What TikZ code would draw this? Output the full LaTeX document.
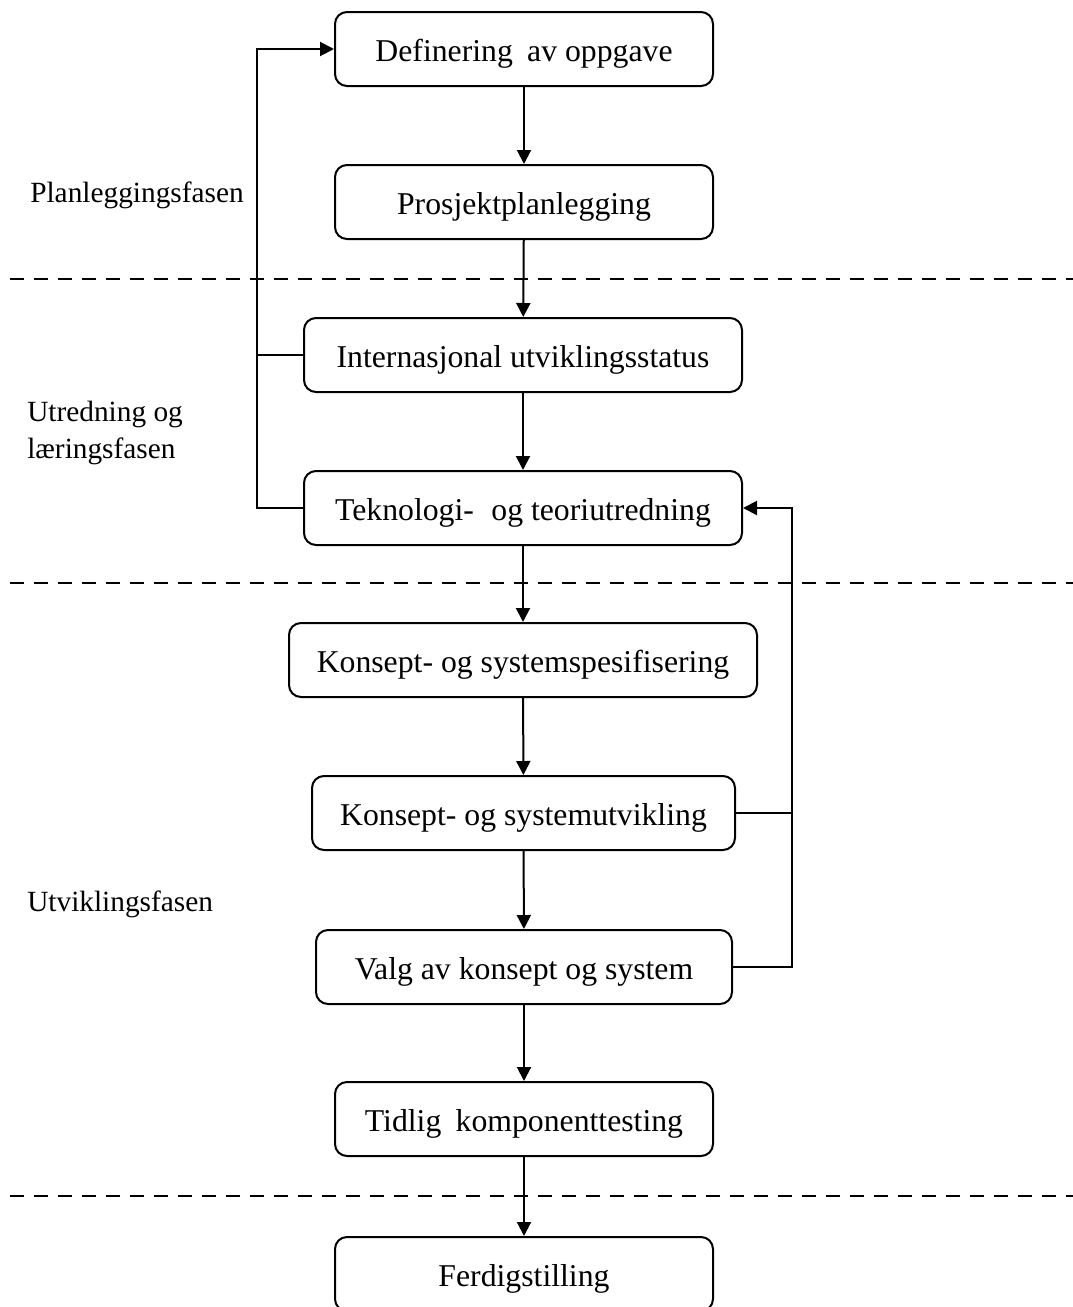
\documentclass[tikz,border=0pt]{standalone}
\usepackage{fontspec}
\setmainfont{Liberation Serif}
\usetikzlibrary{arrows.meta}
\begin{document}
\begin{tikzpicture}[x=0.75pt,y=-0.75pt,
  phase/.style={draw,line width=1.5pt,rounded corners=9pt,inner sep=0pt,
    minimum height=55.5pt,text height=22pt,text depth=4pt,
    font=\fontsize{23.8pt}{28pt}\selectfont},
  flow/.style={line width=1.5pt,-{Triangle[length=10.5pt,width=10.5pt]}},
  link/.style={line width=1.5pt},
  divider/.style={line width=1.5pt,dash pattern=on 10.5pt off 7.5pt},
  phaselabel/.style={anchor=west,inner sep=0pt,align=left,
    font=\fontsize{22pt}{27.5pt}\selectfont}]
\useasboundingbox (0,0) rectangle (1073,1307);
\clip (0,0) rectangle (1073,1307);

% phase dividers
\draw[divider] (10,279) -- (1073,279);
\draw[divider] (10,583) -- (1073,583);
\draw[divider] (10,1196) -- (1073,1196);

% process steps
\node[phase,minimum width=283.5pt] (def) at (524,49) {Definering\hspace{0.2em} av oppgave};
\node[phase,minimum width=283.5pt] (plan) at (524,202) {Prosjektplanlegging};
\node[phase,minimum width=328.5pt] (int) at (523,355) {Internasjonal utviklingsstatus};
\node[phase,minimum width=328.5pt] (tek) at (523,508) {Teknologi-\hspace{0.3em} og teoriutredning};
\node[phase,minimum width=351pt] (spec) at (523,660) {Konsept- og systemspesifisering};
\node[phase,minimum width=317.25pt] (utv) at (523.5,813) {Konsept- og systemutvikling};
\node[phase,minimum width=312pt] (valg) at (524,967) {Valg av konsept og system};
\node[phase,minimum width=283.5pt] (test) at (524,1119) {Tidlig\hspace{0.2em} komponenttesting};
\node[phase,minimum width=283.5pt] (ferd) at (524,1274) {Ferdigstilling};

% phase names
\node[phaselabel] (p1) at (30,195) {Planleggingsfasen};
\node[phaselabel] (p2) at (27,433) {Utredning og\\læringsfasen};
\node[phaselabel] (p3) at (27,904) {Utviklingsfasen};

% main flow
\draw[flow] (def) -- (plan);
\draw[flow] (plan) -- (int);
\draw[flow] (int) -- (tek);
\draw[flow] (tek) -- (spec);
\draw[flow] (spec) -- (utv);
\draw[flow] (utv) -- (valg);
\draw[flow] (valg) -- (test);
\draw[flow] (test) -- (ferd);

% feedback to the task definition
\coordinate (lbus) at (257,355);
\draw[flow] (tek.west) -| (257,49) -- (def.west);
\draw[link] (int.west) -- (lbus);

% feedback to technology study
\coordinate (rbus) at (792,813);
\draw[flow] (valg.east) -| (792,508) -- (tek.east);
\draw[link] (utv.east) -- (rbus);
\end{tikzpicture}
\end{document}
